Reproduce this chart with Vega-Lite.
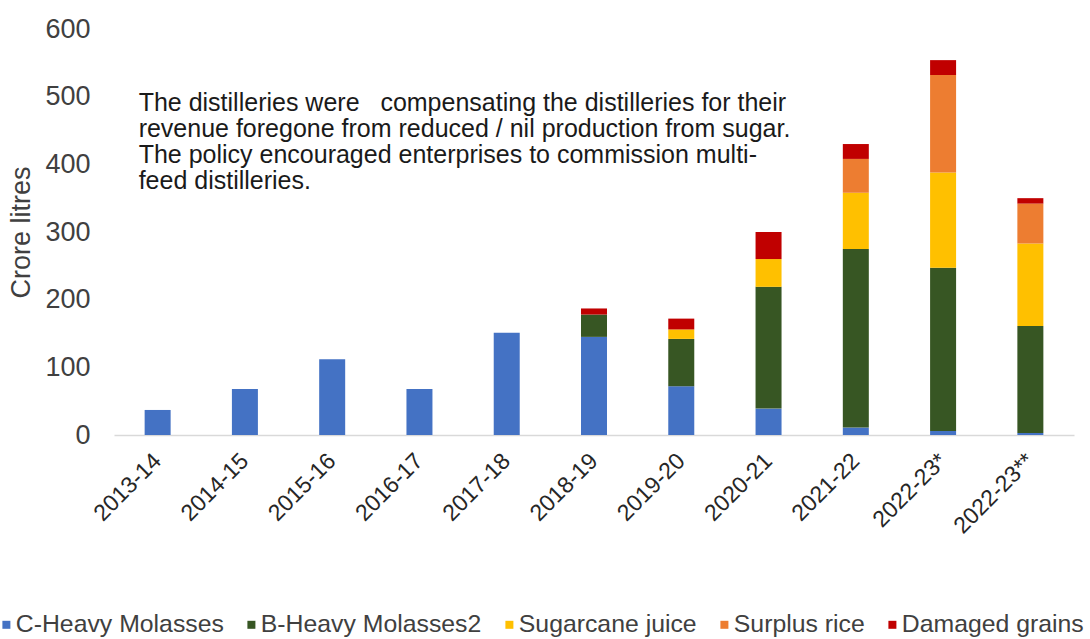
{
  "$schema": "https://vega.github.io/schema/vega-lite/v6.json",
  "width": 960,
  "height": 406,
  "autosize": "none",
  "padding": {"left": 114, "top": 29, "right": 16, "bottom": 204},
  "background": "white",
  "config": {"view": {"stroke": null}, "font": "Liberation Sans"},
  "datasets": {
    "bars": [
      {"year": "2013-14", "feed": "C-Heavy Molasses", "k": 1, "v": 37},
      {"year": "2014-15", "feed": "C-Heavy Molasses", "k": 1, "v": 68},
      {"year": "2015-16", "feed": "C-Heavy Molasses", "k": 1, "v": 112},
      {"year": "2016-17", "feed": "C-Heavy Molasses", "k": 1, "v": 68},
      {"year": "2017-18", "feed": "C-Heavy Molasses", "k": 1, "v": 151},
      {"year": "2018-19", "feed": "C-Heavy Molasses", "k": 1, "v": 145},
      {"year": "2018-19", "feed": "B-Heavy Molasses2", "k": 2, "v": 33},
      {"year": "2018-19", "feed": "Damaged grains", "k": 5, "v": 9},
      {"year": "2019-20", "feed": "C-Heavy Molasses", "k": 1, "v": 72},
      {"year": "2019-20", "feed": "B-Heavy Molasses2", "k": 2, "v": 70},
      {"year": "2019-20", "feed": "Sugarcane juice", "k": 3, "v": 14},
      {"year": "2019-20", "feed": "Damaged grains", "k": 5, "v": 16},
      {"year": "2020-21", "feed": "C-Heavy Molasses", "k": 1, "v": 39},
      {"year": "2020-21", "feed": "B-Heavy Molasses2", "k": 2, "v": 180},
      {"year": "2020-21", "feed": "Sugarcane juice", "k": 3, "v": 41},
      {"year": "2020-21", "feed": "Damaged grains", "k": 5, "v": 40},
      {"year": "2021-22", "feed": "C-Heavy Molasses", "k": 1, "v": 11},
      {"year": "2021-22", "feed": "B-Heavy Molasses2", "k": 2, "v": 264},
      {"year": "2021-22", "feed": "Sugarcane juice", "k": 3, "v": 83},
      {"year": "2021-22", "feed": "Surplus rice", "k": 4, "v": 50},
      {"year": "2021-22", "feed": "Damaged grains", "k": 5, "v": 22},
      {"year": "2022-23*", "feed": "C-Heavy Molasses", "k": 1, "v": 6},
      {"year": "2022-23*", "feed": "B-Heavy Molasses2", "k": 2, "v": 241},
      {"year": "2022-23*", "feed": "Sugarcane juice", "k": 3, "v": 141},
      {"year": "2022-23*", "feed": "Surplus rice", "k": 4, "v": 144},
      {"year": "2022-23*", "feed": "Damaged grains", "k": 5, "v": 22},
      {"year": "2022-23**", "feed": "C-Heavy Molasses", "k": 1, "v": 3},
      {"year": "2022-23**", "feed": "B-Heavy Molasses2", "k": 2, "v": 158},
      {"year": "2022-23**", "feed": "Sugarcane juice", "k": 3, "v": 122},
      {"year": "2022-23**", "feed": "Surplus rice", "k": 4, "v": 59},
      {"year": "2022-23**", "feed": "Damaged grains", "k": 5, "v": 8}
    ],
    "note": [
      {"year": "2013-14", "y": 509, "t": ["The distilleries were\u00a0\u00a0 compensating the distilleries for their", "revenue foregone from reduced / nil production from sugar.", "The policy encouraged enterprises to commission multi-", "feed distilleries."]}
    ]
  },
  "layer": [
    {
      "data": {"name": "bars"},
      "mark": {"type": "bar", "width": 26},
      "encoding": {
        "x": {
          "field": "year", "type": "nominal", "sort": null,
          "scale": {"paddingInner": 0.7, "paddingOuter": 0.35},
          "axis": {
            "title": null, "labelAngle": -45, "labelFontSize": 23, "labelColor": "#262626",
            "domainColor": "#d9d9d9", "domainWidth": 1.5, "ticks": false, "labelPadding": 22,
            "labelAlign": "right", "labelBaseline": "middle", "labelLimit": 0
          }
        },
        "y": {
          "field": "v", "type": "quantitative", "aggregate": "sum", "stack": "zero",
          "scale": {"domain": [0, 600], "nice": false},
          "axis": {
            "title": "Crore litres", "titleFontSize": 27, "titleFontWeight": "normal", "titleColor": "#404040",
            "titlePadding": 9, "labelFontSize": 27, "labelColor": "#404040",
            "values": [0, 100, 200, 300, 400, 500, 600], "grid": false, "domain": false, "ticks": false,
            "labelPadding": 24
          }
        },
        "color": {
          "field": "feed", "type": "nominal",
          "scale": {
            "domain": ["C-Heavy Molasses", "B-Heavy Molasses2", "Sugarcane juice", "Surplus rice", "Damaged grains"],
            "range": ["#4472C4", "#375623", "#FFC000", "#ED7D31", "#C00000"]
          },
          "legend": {
            "title": null, "orient": "none", "legendX": -120, "legendY": 583,
            "direction": "horizontal", "columns": 5, "symbolType": "square", "symbolSize": 64,
            "symbolStrokeWidth": 0, "labelFontSize": 24.8, "labelColor": "#404040", "columnPadding": 15,
            "labelOffset": -3, "labelLimit": 0
          }
        },
        "order": {"field": "k", "type": "quantitative"}
      }
    },
    {
      "data": {"name": "note"},
      "mark": {"type": "text", "align": "left", "baseline": "top", "fontSize": 25, "lineHeight": 26, "dx": -19, "color": "#1a1a1a"},
      "encoding": {
        "x": {"field": "year", "type": "nominal", "sort": null},
        "y": {"field": "y", "type": "quantitative"},
        "text": {"field": "t"}
      }
    }
  ]
}
